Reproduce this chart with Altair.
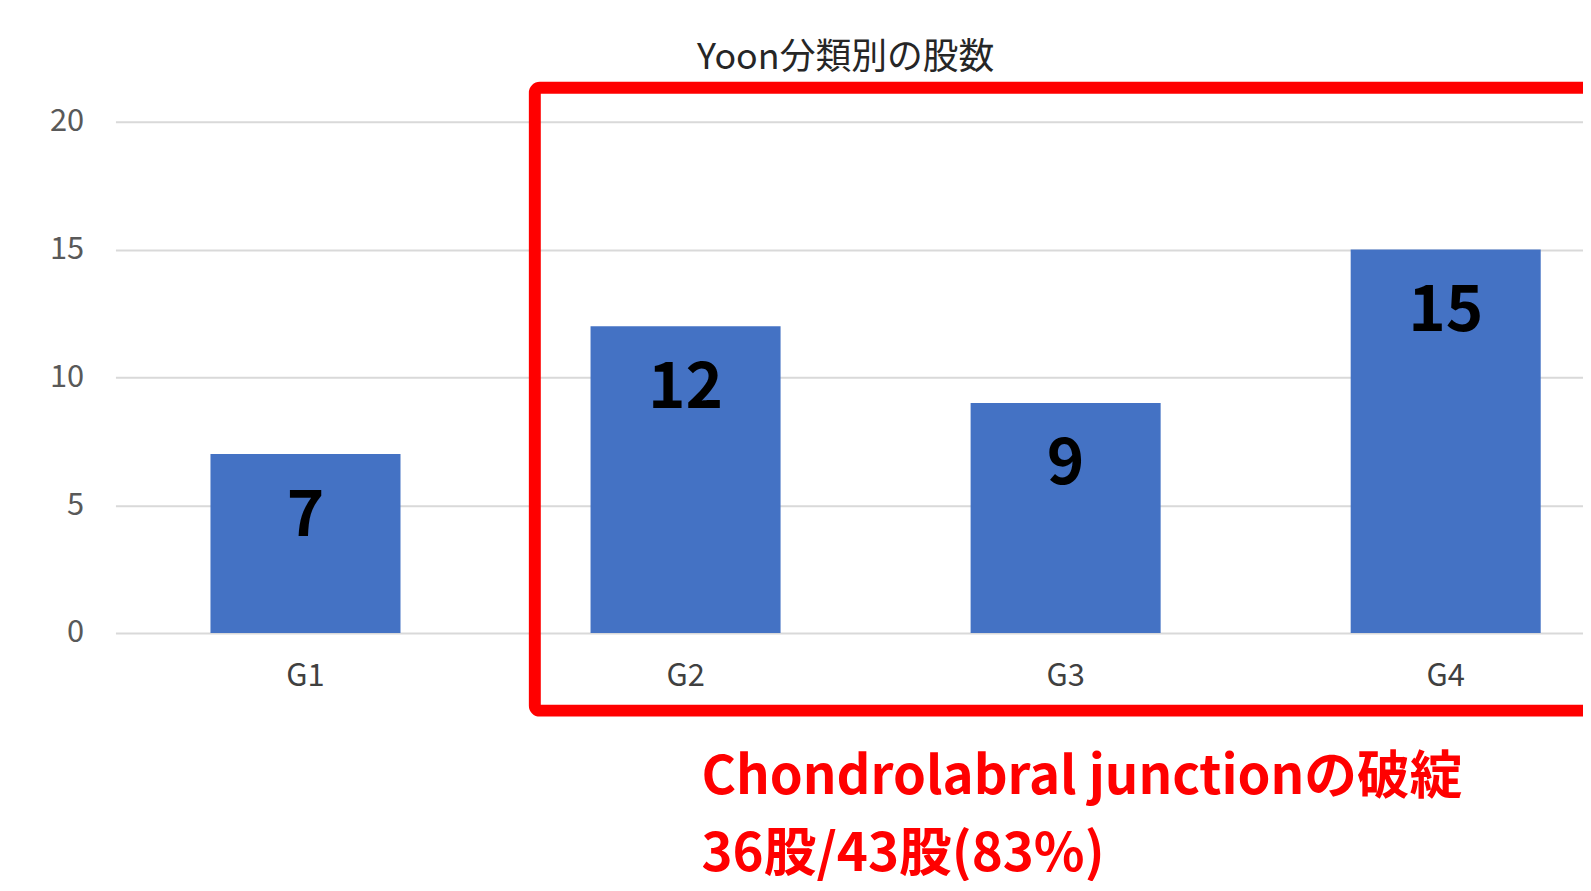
import altair as alt
import pandas as pd

categories = ["G1", "G2", "G3", "G4"]
counts = [7, 12, 9, 15]
y_ticks = [0, 5, 10, 15, 20]
title_text = "Yoon分類別の股数"
note_line1 = "Chondrolabral junctionの破綻"
note_line2 = "36股/43股(83%)"

df = pd.DataFrame({"group": categories, "count": counts})

FONT = "Noto Sans CJK JP"
W, H = 1475, 514

x_scale = alt.Scale(range=[0, 1528], paddingInner=0.5, paddingOuter=0.25)
y_scale = alt.Scale(domain=[0, 20], nice=False)

x_axis = alt.Axis(
    title=None, domain=False, ticks=False, grid=False, labelAngle=0,
    labelFont=FONT, labelFontSize=31, labelColor="#404040", labelPadding=29,
)
y_axis = alt.Axis(
    title=None, domain=False, ticks=False, values=y_ticks,
    labelFont=FONT, labelFontSize=31, labelColor="#595959", labelPadding=32,
    gridColor="#D9D9D9", gridWidth=2,
)

base = alt.Chart(df)

bars = base.mark_bar(color="#4472C4").encode(
    x=alt.X("group:N", sort=categories, scale=x_scale, axis=x_axis),
    y=alt.Y("count:Q", scale=y_scale, axis=y_axis),
)

labels = base.mark_text(
    font=FONT, fontSize=64, fontWeight="bold", color="#000000",
    baseline="middle", dy=63,
).encode(
    x=alt.X("group:N", sort=categories, scale=x_scale, axis=x_axis),
    y=alt.Y("count:Q", scale=y_scale, axis=y_axis),
    text="count:Q",
)

title = alt.Chart(pd.DataFrame({"t": [title_text]})).mark_text(
    font=FONT, fontSize=36, color="#262626", baseline="middle", align="center",
).encode(x=alt.value(734), y=alt.value(-64), text="t:N")

box = alt.Chart(pd.DataFrame({"k": [1]})).mark_rect(
    fillOpacity=0, stroke="#FF0000", strokeWidth=12, cornerRadius=5,
).encode(x=alt.value(421.5), x2=alt.value(1700), y=alt.value(-34), y2=alt.value(592))

note = alt.Chart(pd.DataFrame({"t": [note_line1, note_line2], "yy": [660, 737]})).mark_text(
    font=FONT, fontSize=53, fontWeight="bold", color="#FF0000",
    baseline="middle", align="left",
).encode(x=alt.value(589), y=alt.Y("yy:Q", scale=None, axis=None), text="t:N")

chart = alt.layer(bars, labels, title, box, note).properties(
    width=W, height=H,
    background="#FFFFFF",
    autosize=alt.AutoSizeParams(type="none"),
    padding={"left": 108, "top": 112, "right": 0, "bottom": 247},
).configure_view(strokeWidth=0)

chart.save("out.html", embed_options={"renderer": "svg", "actions": False})
